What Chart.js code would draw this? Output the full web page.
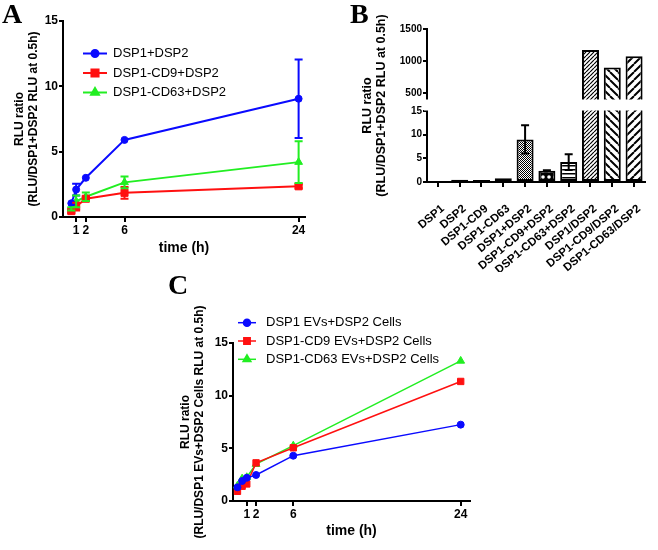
<!DOCTYPE html>
<html>
<head>
<meta charset="utf-8">
<script src="https://cdn.jsdelivr.net/npm/chart.js@4.4.1/dist/chart.umd.min.js"></script>
<style>
body { margin: 0; background: #fff; width: 658px; height: 550px; position: relative; overflow: hidden; }
canvas { position: absolute; }
.lab { position: absolute; font: bold 28px 'Liberation Serif', 'Times New Roman', serif; line-height: 28px; }
</style>
</head>
<body>
<canvas id="chartA" width="330" height="262" style="left:0;top:0"></canvas>
<canvas id="chartB" width="328" height="272" style="left:330px;top:0"></canvas>
<canvas id="chartC" width="340" height="270" style="left:140px;top:280px"></canvas>
<div class="lab" style="left:2px;top:0">A</div>
<div class="lab" style="left:350px;top:0">B</div>
<div class="lab" style="left:168px;top:271px">C</div>
<script>
// ---- panel A data ----
const seriesA = ['DSP1+DSP2', 'DSP1-CD9+DSP2', 'DSP1-CD63+DSP2'];
const timesA = [0.5, 1, 2, 6, 24];
const blueA = [1.05, 2.1, 3.0, 5.9, 9.05];
const blueErrA = [0, 0.45, 0, 0, 3.0];
const redA = [0.45, 0.8, 1.4, 1.85, 2.35];
const redErrA = [0.15, 0.3, 0.15, 0.45, 0.15];
const greenA = [0.62, 1.2, 1.55, 2.65, 4.2];
const greenErrA = [0.12, 0.45, 0.33, 0.45, 1.6];
const xTicksA = [1, 2, 6, 24];

// ---- panel B data ----
const catsB = ['DSP1', 'DSP2', 'DSP1-CD9', 'DSP1-CD63', 'DSP1+DSP2', 'DSP1-CD9+DSP2',
  'DSP1-CD63+DSP2', 'DSP1/DSP2', 'DSP1-CD9/DSP2', 'DSP1-CD63/DSP2'];
const valsB = [0.2, 0.45, 0.4, 0.8, 9.0, 2.4, 4.2, 1170, 900, 1075];
const errB = [0, 0, 0, 0, 3.0, 0.1, 1.65, 0, 0, 0];
const yTicksB = [0, 5, 10, 15, 500, 1000, 1500];

// ---- panel C data ----
const seriesC = ['DSP1 EVs+DSP2 Cells', 'DSP1-CD9 EVs+DSP2 Cells', 'DSP1-CD63 EVs+DSP2 Cells'];
const timesC = [0, 0.5, 1, 2, 6, 24];
const blueC = [1.3, 1.9, 2.2, 2.47, 4.3, 7.25];
const redC = [0.92, 1.4, 1.62, 3.62, 5.05, 11.35];
const greenC = [1.45, 2.12, 2.25, 3.5, 5.25, 13.3];
const xTicksC = [1, 2, 6, 24];

const FONT = "'Liberation Sans', Arial, sans-serif";
const BLUE = '#0a0aff', RED = '#ff1010', GREEN = '#22ee22';
Chart.defaults.font.family = FONT;
Chart.defaults.color = '#000';

const pts = (xs, ys) => xs.map((x, i) => ({ x: x, y: ys[i] }));

// legend drawn inside the plot, GraphPad style
const inLegend = {
  id: 'inLegend',
  afterDraw(chart, args, o) {
    if (!o || o.x === undefined) return;
    const ctx = chart.ctx;
    chart.data.datasets.forEach((ds, i) => {
      const y = o.y + i * o.gap;
      ctx.save();
      ctx.strokeStyle = ds.borderColor;
      ctx.fillStyle = ds.borderColor;
      ctx.lineWidth = ds.borderWidth;
      ctx.beginPath();
      ctx.moveTo(o.x, y);
      ctx.lineTo(o.x + o.len, y);
      ctx.stroke();
      Chart.helpers.drawPoint(ctx, { pointStyle: ds.pointStyle, radius: ds.pointRadius, borderWidth: 1 }, o.x + o.len / 2, y);
      ctx.fillStyle = '#000';
      ctx.font = o.font;
      ctx.textBaseline = 'middle';
      ctx.fillText(ds.label, o.x + o.len + o.textGap, y);
      ctx.restore();
    });
  }
};

const errorBars = {
  id: 'errorBars',
  afterDatasetsDraw(chart, args, o) {
    const ctx = chart.ctx;
    chart.data.datasets.forEach((ds, di) => {
      if (!ds.err) return;
      const meta = chart.getDatasetMeta(di);
      const ys = chart.scales[meta.yAxisID];
      meta.data.forEach((el, i) => {
        const e = ds.err[i];
        if (!e) return;
        const raw = ds.data[i];
        const v = typeof raw === 'object' ? raw.y : raw;
        const y1 = ys.getPixelForValue(v - e), y2 = ys.getPixelForValue(v + e);
        const cap = (o && o.cap) || 4;
        ctx.save();
        ctx.strokeStyle = (o && o.color) || ds.borderColor;
        ctx.lineWidth = 2;
        ctx.beginPath();
        ctx.moveTo(el.x, y1); ctx.lineTo(el.x, y2);
        ctx.moveTo(el.x - cap, y1); ctx.lineTo(el.x + cap, y1);
        ctx.moveTo(el.x - cap, y2); ctx.lineTo(el.x + cap, y2);
        ctx.stroke();
        ctx.restore();
      });
    });
  }
};

function axisX(min, max, ticks, h, titlePad) {
  return {
    type: 'linear', min: min, max: max,
    afterBuildTicks: s => { s.ticks = ticks.map(v => ({ value: v })); },
    afterFit: s => { s.height = h; },
    grid: { drawOnChartArea: false, color: '#000', lineWidth: 2, tickLength: 5 },
    border: { color: '#000', width: 2 },
    ticks: { font: { size: 12, weight: 'bold' }, padding: 1, autoSkip: false, maxRotation: 0 },
    title: { display: true, text: 'time (h)', font: { size: 14, weight: 'bold' }, padding: { top: 0, bottom: titlePad } }
  };
}

function axisY(w, title, titlePad) {
  return {
    min: 0, max: 15,
    afterFit: s => { s.width = w; },
    grid: { drawOnChartArea: false, color: '#000', lineWidth: 2, tickLength: 4 },
    border: { color: '#000', width: 2 },
    ticks: { stepSize: 5, font: { size: 12, weight: 'bold' }, padding: 1 },
    title: { display: true, text: title, font: { size: 12, weight: 'bold', lineHeight: 1.15 }, padding: { top: titlePad, bottom: 0 } }
  };
}

function lineSet(label, xs, ys, err, color, style, r, bw) {
  return {
    label: label, data: pts(xs, ys), err: err,
    borderColor: color, backgroundColor: color, pointBackgroundColor: color,
    pointStyle: style, pointRadius: r, pointBorderWidth: 1, borderWidth: bw, tension: 0
  };
}

// ---- A ----
new Chart(document.getElementById('chartA'), {
  type: 'line',
  data: {
    datasets: [
      lineSet(seriesA[0], timesA, blueA, blueErrA, BLUE, 'circle', 3.5, 2),
      lineSet(seriesA[1], timesA, redA, redErrA, RED, 'rect', 5, 2),
      lineSet(seriesA[2], timesA, greenA, greenErrA, GREEN, 'triangle', 4.5, 2)
    ]
  },
  options: {
    responsive: false, animation: false,
    layout: { autoPadding: false, padding: { left: 0, top: 21, right: 25, bottom: 0 } },
    scales: {
      x: axisX(-0.36, 24.66, xTicksA, 45, 5),
      y: axisY(63, ['RLU ratio', '(RLU/DSP1+DSP2 RLU at 0.5h)'], 13)
    },
    plugins: {
      legend: { display: false }, tooltip: { enabled: false },
      errorBars: { cap: 4 },
      inLegend: { x: 83, y: 53.5, gap: 19.5, len: 24, textGap: 6, font: '13px ' + FONT }
    }
  },
  plugins: [errorBars, inLegend]
});

// ---- B : broken y axis ----
const breakLow = 15, breakHigh = 406;
const fLow = 0.464, fHigh = 0.5425;
class BrokenLinear extends Chart.LinearScale {
  getPixelForValue(v) {
    const h = this.bottom - this.top;
    let f;
    if (v <= breakLow) f = v / breakLow * fLow;
    else if (v >= breakHigh) f = fHigh + (v - breakHigh) / (this.max - breakHigh) * (1 - fHigh);
    else f = fLow + (v - breakLow) / (breakHigh - breakLow) * (fHigh - fLow);
    return this.bottom - f * h;
  }
  getValueForPixel(p) {
    const f = (this.bottom - p) / (this.bottom - this.top);
    if (f <= fLow) return f / fLow * breakLow;
    if (f >= fHigh) return breakHigh + (f - fHigh) / (1 - fHigh) * (this.max - breakHigh);
    return breakLow + (f - fLow) / (fHigh - fLow) * (breakHigh - breakLow);
  }
}
BrokenLinear.id = 'brokenLinear';
BrokenLinear.defaults = Chart.LinearScale.defaults;
Chart.register(BrokenLinear);

function pattern(kind) {
  const s = { check: 2, grid: 3, hlines: 4, vlines: 4, circles: 6, fine: 4, back: 8, fwd: 8 }[kind];
  const c = document.createElement('canvas');
  c.width = c.height = s;
  const g = c.getContext('2d');
  g.fillStyle = '#fff';
  g.fillRect(0, 0, s, s);
  g.fillStyle = '#000';
  g.strokeStyle = '#000';
  if (kind === 'check') {
    g.fillRect(0, 0, 1, 1); g.fillRect(1, 1, 1, 1);
  } else if (kind === 'grid') {
    g.fillRect(0, 0, 1, 3); g.fillRect(0, 0, 3, 1);
  } else if (kind === 'hlines') {
    g.fillRect(0, 1, s, 1.5);
  } else if (kind === 'vlines') {
    g.fillRect(1, 0, 1.5, s);
  } else if (kind === 'circles') {
    g.fillRect(0, 0, s, s);
    g.fillStyle = '#fff';
    g.beginPath(); g.arc(3, 3, 1.8, 0, Math.PI * 2); g.fill();
  } else {
    g.lineWidth = kind === 'fine' ? 1.2 : 2;
    g.beginPath();
    for (let k = -1; k <= 1; k++) {
      if (kind === 'back') { g.moveTo(k * s, 0); g.lineTo(k * s + s, s); }
      else { g.moveTo(k * s, s); g.lineTo(k * s + s, 0); }
    }
    g.stroke();
  }
  return g.createPattern(c, 'repeat');
}
const fillsB = ['check', 'grid', 'check', 'vlines', 'check', 'circles', 'hlines', 'fine', 'back', 'fwd'].map(pattern);

const breakBand = {
  id: 'breakBand',
  afterDatasetsDraw(chart) {
    const s = chart.scales.y, a = chart.chartArea, ctx = chart.ctx;
    const y1 = s.getPixelForValue(breakHigh), y2 = s.getPixelForValue(breakLow);
    ctx.save();
    ctx.fillStyle = '#fff';
    ctx.fillRect(a.left - 3, y1 + 0.5, a.right - a.left + 6, y2 - y1 - 1);
    ctx.restore();
  }
};

new Chart(document.getElementById('chartB'), {
  type: 'bar',
  data: {
    labels: catsB,
    datasets: [{
      data: valsB, err: errB,
      backgroundColor: fillsB, borderColor: '#000', borderWidth: 2, borderSkipped: false,
      barPercentage: 0.78, categoryPercentage: 1
    }]
  },
  options: {
    responsive: false, animation: false,
    layout: { autoPadding: false, padding: { left: 0, top: 29, right: 1, bottom: 0 } },
    scales: {
      x: {
        afterFit: s => { s.height = 90; },
        grid: { drawOnChartArea: false, offset: false, color: '#000', lineWidth: 2, tickLength: 5 },
        border: { color: '#000', width: 2 },
        ticks: { font: { size: 11.5, weight: 'bold' }, padding: 15, labelOffset: 5, autoSkip: false, minRotation: 40, maxRotation: 40 }
      },
      y: {
        type: 'brokenLinear', min: 0, max: 1500,
        afterBuildTicks: s => { s.ticks = yTicksB.map(v => ({ value: v })); },
        afterFit: s => { s.width = 97; },
        grid: { drawOnChartArea: false, color: '#000', lineWidth: 2, tickLength: 4 },
        border: { color: '#000', width: 2 },
        ticks: { font: { size: 10, weight: 'bold' }, padding: 1, callback: v => String(v) },
        title: {
          display: true, text: ['RLU ratio', '(RLU/DSP1+DSP2 RLU at 0.5h)'],
          font: { size: 12.5, weight: 'bold', lineHeight: 1.15 }, padding: { top: 30, bottom: 0 }
        }
      }
    },
    plugins: { legend: { display: false }, tooltip: { enabled: false }, errorBars: { color: '#000', cap: 4 } }
  },
  plugins: [errorBars, breakBand]
});

// ---- C ----
new Chart(document.getElementById('chartC'), {
  type: 'line',
  data: {
    datasets: [
      lineSet(seriesC[0], timesC, blueC, null, BLUE, 'circle', 3.5, 1.5),
      lineSet(seriesC[1], timesC, redC, null, RED, 'rect', 4.5, 1.5),
      lineSet(seriesC[2], timesC, greenC, null, GREEN, 'triangle', 4.5, 1.5)
    ]
  },
  options: {
    responsive: false, animation: false,
    layout: { autoPadding: false, padding: { left: 0, top: 63, right: 10, bottom: 0 } },
    scales: {
      x: axisX(-0.48, 25.0, xTicksC, 49, 10),
      y: axisY(93, ['RLU ratio', '(RLU/DSP1 EVs+DSP2 Cells RLU at 0.5h)'], 39)
    },
    plugins: {
      legend: { display: false }, tooltip: { enabled: false },
      inLegend: { x: 98, y: 42.7, gap: 18.3, len: 18, textGap: 10, font: '13px ' + FONT }
    }
  },
  plugins: [inLegend]
});
</script>
</body>
</html>
